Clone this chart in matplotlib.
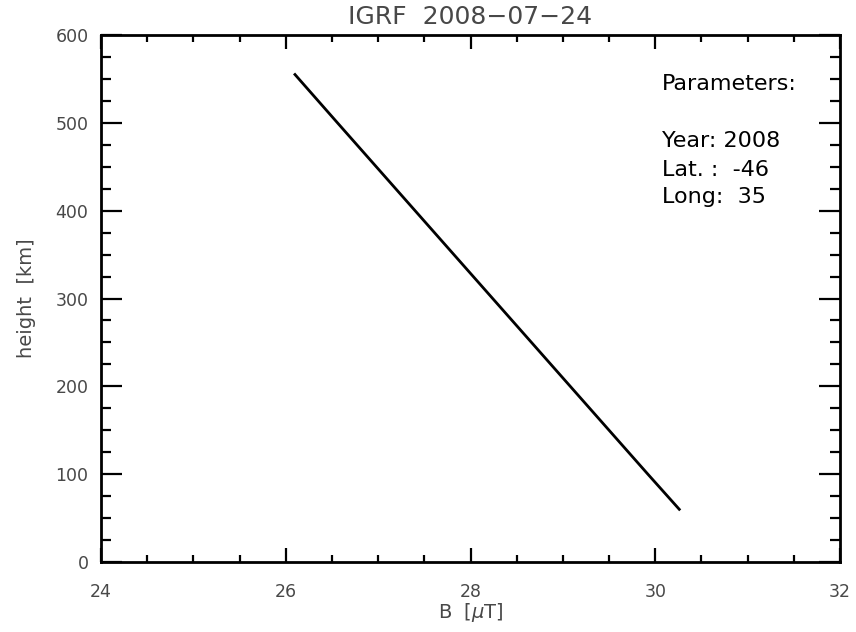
import matplotlib
matplotlib.use("Agg")
import matplotlib.pyplot as plt
from matplotlib.ticker import MultipleLocator

# Data
height_km = [60, 100, 150, 200, 250, 300, 350, 400, 450, 500, 555]
B_uT = [30.26, 29.92, 29.50, 29.08, 28.66, 28.24, 27.82, 27.40, 26.98, 26.56, 26.10]

x_ticks = [24, 26, 28, 30, 32]
y_ticks = [0, 100, 200, 300, 400, 500, 600]
title = "IGRF  2008\u221207\u221224"
param_lines = ["Parameters:", "", "Year: 2008", "Lat. :  -46", "Long:  35"]

gray = "#484848"
W, H = 856, 632
fig = plt.figure(figsize=(W / 100, H / 100), dpi=100)
left, right, top, bottom = 101, 840, 35, 562
ax = fig.add_axes([left / W, 1 - bottom / H, (right - left) / W, (bottom - top) / H])

ax.plot(B_uT, height_km, color="black", lw=2.0)
ax.set_xlim(24, 32)
ax.set_ylim(0, 600)
ax.set_xticks(x_ticks)
ax.set_yticks(y_ticks)
ax.xaxis.set_minor_locator(MultipleLocator(0.5))
ax.yaxis.set_minor_locator(MultipleLocator(25))

for s in ax.spines.values():
    s.set_linewidth(2.0)
    s.set_color("black")

ax.tick_params(axis="both", which="both", direction="in", top=True, right=True,
               color="black", width=1.6, labelcolor=gray, labelsize=12.5)
ax.tick_params(axis="x", which="major", length=10, pad=15)
ax.tick_params(axis="x", which="minor", length=5)
ax.tick_params(axis="y", which="major", length=15, pad=9)
ax.tick_params(axis="y", which="minor", length=7.5)

ax.set_xlabel("B  [$\\mu$T]", color=gray, fontsize=14, labelpad=0)
ax.set_ylabel("height  [km]", color=gray, fontsize=14, labelpad=14)
ax.set_title(title, color=gray, fontsize=18, pad=8)

# parameter block: one text per line, baselines measured in pixels from top
baselines = [90, 118.5, 147, 176, 203]
for txt, yb in zip(param_lines, baselines):
    if txt:
        fig.text(662 / W, 1 - yb / H, txt, ha="left", va="baseline",
                 fontsize=16, color="black")

fig.savefig("out.png", dpi=100, facecolor="white")
